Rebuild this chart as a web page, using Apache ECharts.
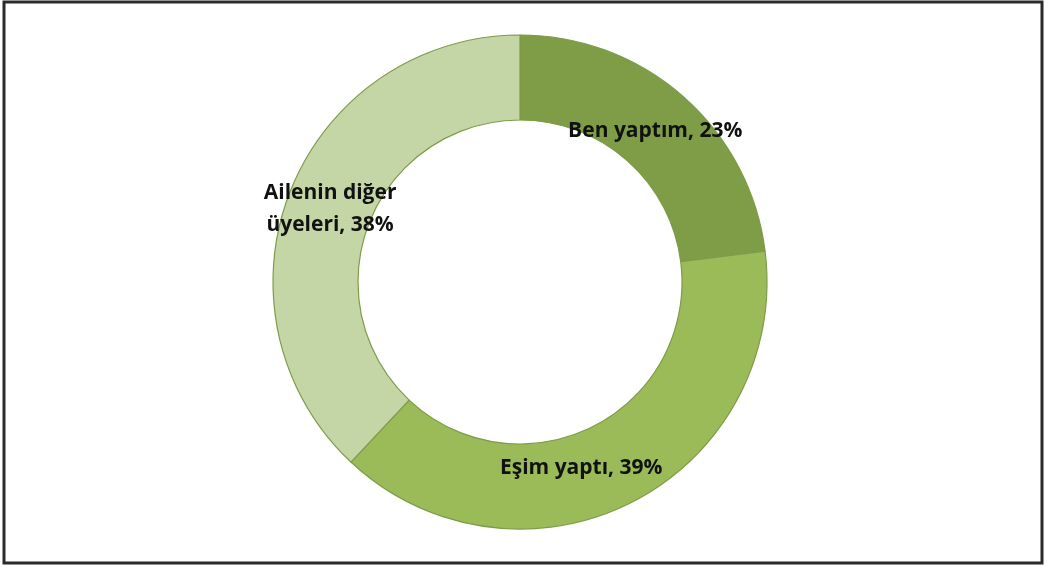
<!DOCTYPE html>
<html><head><meta charset="utf-8">
<script src="https://cdn.jsdelivr.net/npm/echarts@6/dist/echarts.min.js"></script>
<style>html,body{margin:0;padding:0;background:#fff}#c{width:1049px;height:568px}</style>
</head><body><div id="c"></div>
<script>
const categories = ['Ben yaptım', 'Eşim yaptı', 'Ailenin diğer\nüyeleri'];
const values = [23, 39, 38];
const colors = ['#7f9c47', '#9bbb59', '#c5d6a6'];
const labelShift = [[-2, 5], [-33, 1], [3, 3]];

const chart = echarts.init(document.getElementById('c'));
chart.setOption({
  animation: false,
  graphic: [{
    type: 'rect', shape: {x: 4, y: 2, width: 1038, height: 561},
    style: {fill: 'none', stroke: '#2b2b2b', lineWidth: 3}, z: 10
  }],
  series: [{
    type: 'pie',
    center: [520, 282],
    radius: [162, 247],
    startAngle: 90,
    clockwise: true,
    silent: true,
    data: categories.map((c, i) => ({name: c, value: values[i], itemStyle: {color: colors[i]}})),
    itemStyle: {borderColor: '#7e9b49', borderWidth: 1.2},
    label: {
      position: 'inside',
      formatter: p => p.name + ', ' + p.value + '%',
      fontFamily: 'Open Sans', fontWeight: 'bold', fontSize: 21, color: '#111',
      lineHeight: 32, align: 'center'
    },
    labelLine: {show: false},
    labelLayout: p => ({dx: labelShift[p.dataIndex][0], dy: labelShift[p.dataIndex][1]})
  }]
});
</script></body></html>
